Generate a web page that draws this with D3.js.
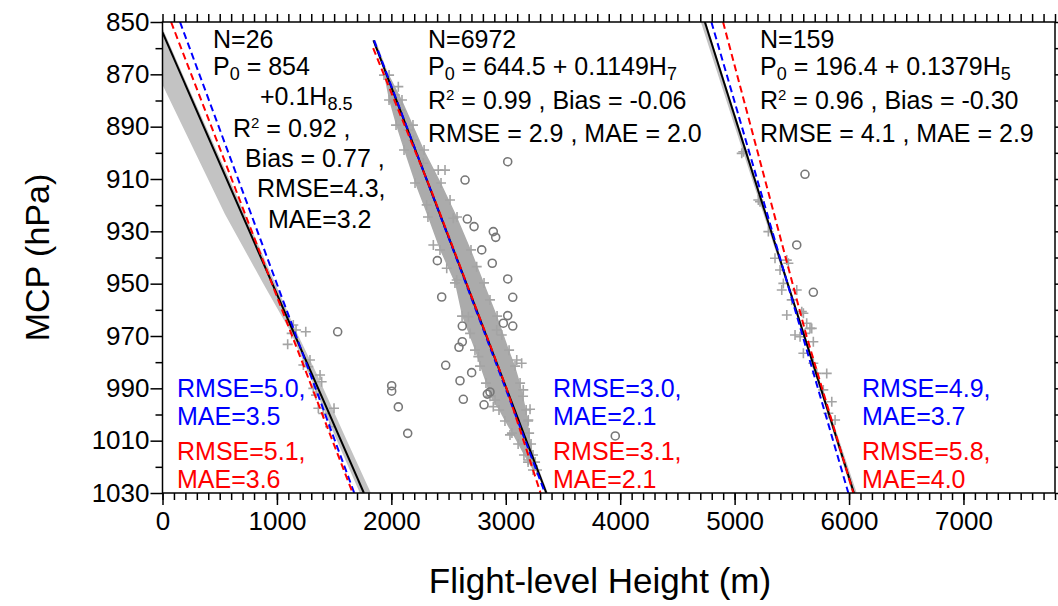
<!DOCTYPE html>
<html>
<head>
<meta charset="utf-8">
<script src="https://cdn.jsdelivr.net/npm/d3@7"></script>
<style>
body { margin: 0; background: #fff; }
text { font-family: "Liberation Sans", Arial, sans-serif; }
</style>
</head>
<body>
<svg id="chart"></svg>
<script>
const width = 1058;
const height = 606;

// axis ranges and ticks
const xDomain = [0, 7800];
const yDomain = [850, 1030];
const xMajor = [0, 1000, 2000, 3000, 4000, 5000, 6000, 7000];
const yMajor = [850, 870, 890, 910, 930, 950, 970, 990, 1010, 1030];

// scatter points [height m, pressure hPa]
const g1Plus = [[1143,965.8],[1252,968.4],[1094,973.2],[1129,969.0],[1167,967.7],[1231,981.1],[1274,981.7],[1289,979.2],[1377,984.9],[1391,987.5],[1318,990.0],[1342,992.6],[1362,997.6],[1499,997.6],[1405,999.6],[1464,1004.7]];
const g1Circle = [[1531,968.4]];

const g2Plus = [[2061,874.7],[2032,877.9],[2017,880.5],[2076,883.6],[2148,891.3],[2192,895.1],[2279,904.0],[2410,906.6],[2469,906.6],[2309,919.9],[2513,918.0],[2542,925.0],[2367,935.2],[2484,944.1],[2746,943.5],[2571,948.6],[2862,956.2],[2673,962.6],[2688,969.0],[2921,967.7],[2965,969.6],[2760,977.9],[3096,979.2],[3139,980.4],[3153,990.6],[2906,994.5],[2891,997.0],[3212,998.0],[3197,1002.1],[3037,1007.8],[3197,1017.4]];
const g2Circle = [[3017,903.4],[2644,910.4],[2664,925.3],[2723,928.2],[2891,930.1],[2912,932.3],[2790,937.1],[2402,941.2],[2882,942.2],[3017,948.2],[2440,955.1],[3061,955.2],[3017,962.2],[2979,965.1],[3061,966.2],[2620,966.2],[2620,972.2],[2591,974.3],[2475,981.2],[2702,984.0],[2600,987.1],[2839,992.2],[2862,991.4],[2629,994.2],[2810,996.3],[2003,989.0],[2003,991.1],[2061,997.1],[2143,1007.2],[3957,1008.2]];
// dense core of the N=6972 cloud: pressure, left and right height
const g2CoreP  = [870.3, 879.8, 889.4, 898.9, 911.5, 924.5, 937.1, 949.7, 962.4, 975.4, 981.5, 988.0, 993.0, 998.3, 1002.5, 1007.1, 1011.3, 1015.5, 1018.2, 1021.2];
const g2CoreLo = [1936, 1980, 2041, 2111, 2207, 2320, 2425, 2556, 2618, 2731, 2775, 2827, 2862, 2941, 2993, 3054, 3108, 3159, 3195, 3238];
const g2CoreHi = [1980, 2093, 2189, 2286, 2434, 2574, 2696, 2810, 2924, 3029, 3081, 3125, 3151, 3178, 3195, 3204, 3221, 3238, 3256, 3273];

const g3Plus = [[5062,900.2],[5076,899.6],[5207,918.0],[5222,918.7],[5295,930.1],[5353,940.3],[5456,941.0],[5397,944.8],[5470,942.2],[5426,949.9],[5412,952.4],[5543,952.4],[5499,956.2],[5456,962.0],[5587,960.7],[5601,961.3],[5630,965.1],[5674,967.1],[5659,967.1],[5528,969.6],[5615,969.0],[5572,970.3],[5688,972.2],[5601,976.6],[5688,980.4],[5718,984.3],[5805,984.3],[5775,990.6],[5849,995.1],[5819,999.5],[5878,1002.1]];
const g3Circle = [[5615,908.2],[5543,935.2],[5688,953.3]];

// confidence bands [pressure, left height, right height]
const g1Band = [[850,-258,-23],[873,-11,207],[923.4,545,720],[950,881,986],[968,1114,1166],[985,1284,1354],[1010,1525,1612],[1030,1725,1821]];
const g2Band = [[857,1836,1862],[950,2653,2665],[1030,3342,3368]];
const g3Band = [[850,4705,4749],[900,5076,5111],[960,5528,5546],[1000,5814,5840],[1030,6027,6067]];

// fitted lines [height, pressure]
const fitBlack = [[[0,854],[1760,1030]], [[1844,857],[3355,1030]], [[4740,850],[6043,1030]]];
const fitBlue  = [[[153,850],[1676,1030]], [[1849,857],[3343,1030]], [[4797,850],[5994,1030]]];
const fitRed   = [[[75,850],[1662,1030]], [[1841,860],[2354,915],[3007,990],[3304,1030]], [[4899,850],[5630,970.3],[6038,1030]]];

// annotation texts
const notes1 = ["N=26", "P_{0} = 854", "+0.1H_{8.5}", "R^{2} = 0.92 ,", "Bias = 0.77 ,", "RMSE=4.3,", "MAE=3.2"];
const notes2 = ["N=6972", "P_{0} = 644.5 + 0.1149H_{7}", "R^{2} = 0.99 , Bias = -0.06", "RMSE = 2.9 , MAE = 2.0"];
const notes3 = ["N=159", "P_{0} = 196.4 + 0.1379H_{5}", "R^{2} = 0.96 , Bias = -0.30", "RMSE = 4.1 , MAE = 2.9"];
const statsBlue = [["RMSE=5.0,", "MAE=3.5"], ["RMSE=3.0,", "MAE=2.1"], ["RMSE=4.9,", "MAE=3.7"]];
const statsRed  = [["RMSE=5.1,", "MAE=3.6"], ["RMSE=3.1,", "MAE=2.1"], ["RMSE=5.8,", "MAE=4.0"]];


const x = d3.scaleLinear().domain(xDomain).range([162.5, 1055]);
const y = d3.scaleLinear().domain(yDomain).range([22, 493]);

const svg = d3.select("#chart")
  .attr("width", width)
  .attr("height", height);

svg.append("clipPath").attr("id", "clip")
  .append("rect")
  .attr("x", x(xDomain[0])).attr("y", y(yDomain[0]))
  .attr("width", x(xDomain[1]) - x(xDomain[0]))
  .attr("height", y(yDomain[1]) - y(yDomain[0]));

const plot = svg.append("g").attr("clip-path", "url(#clip)");

// bands
const band = d3.area()
  .y(d => y(d[0]))
  .x0(d => x(d[1]))
  .x1(d => x(d[2]));

plot.selectAll(".band")
  .data([g1Band, g2Band, g3Band]).join("path")
  .attr("d", band)
  .attr("fill", "#c3c3c3");

// dense cloud core
const core = g2CoreP.map((p, i) => [p, g2CoreLo[i], g2CoreHi[i]]);
plot.append("path")
  .attr("d", band(core))
  .attr("fill", "#ababab");

const coreEdge = core.flatMap(d => [[d[1], d[0]], [d[2], d[0]]]);
const allPlus = g1Plus.concat(g2Plus, coreEdge, g3Plus);

plot.selectAll(".plus")
  .data(allPlus).join("path")
  .attr("d", "M-5,0H5M0,-5V5")
  .attr("transform", d => `translate(${x(d[0])},${y(d[1])})`)
  .attr("stroke", "#a4a4a4")
  .attr("stroke-width", 1.6)
  .attr("fill", "none");

plot.selectAll(".circ")
  .data(g1Circle.concat(g2Circle, g3Circle)).join("circle")
  .attr("cx", d => x(d[0]))
  .attr("cy", d => y(d[1]))
  .attr("r", 4)
  .attr("fill", "none")
  .attr("stroke", "#777")
  .attr("stroke-width", 1.6);

// fit lines
const line = d3.line().x(d => x(d[0])).y(d => y(d[1]));

plot.selectAll(".black")
  .data(fitBlack).join("path")
  .attr("d", line)
  .attr("fill", "none")
  .attr("stroke", "#000")
  .attr("stroke-width", 2);

plot.selectAll(".blue")
  .data(fitBlue).join("path")
  .attr("d", line)
  .attr("fill", "none")
  .attr("stroke", "#0000ff")
  .attr("stroke-width", 2)
  .attr("stroke-dasharray", "7,4");

plot.selectAll(".red")
  .data(fitRed).join("path")
  .attr("d", line)
  .attr("fill", "none")
  .attr("stroke", "#ff0000")
  .attr("stroke-width", 2)
  .attr("stroke-dasharray", "7,4");

// axes
const axisStyle = g => {
  g.select(".domain").remove();
  g.selectAll("line").attr("stroke", "#000").attr("stroke-width", 1.5);
  g.selectAll("text").attr("font-size", 26).attr("fill", "#000")
    .attr("font-family", "'Liberation Sans', Arial, sans-serif");
};
const fmt = d3.format("d");

svg.append("g")
  .attr("transform", `translate(${x(0)},0)`)
  .call(d3.axisLeft(y).tickValues(yMajor).tickSize(12).tickPadding(1).tickFormat(fmt))
  .call(axisStyle);
svg.append("g")
  .attr("transform", `translate(${x(0)},0)`)
  .call(d3.axisLeft(y).tickValues(d3.range(860, 1030, 20)).tickSize(7).tickFormat(""))
  .call(axisStyle);

svg.append("g")
  .attr("transform", `translate(0,${y(1030)})`)
  .call(d3.axisBottom(x).tickValues(xMajor).tickSize(12).tickPadding(7).tickFormat(fmt))
  .call(axisStyle);
svg.append("g")
  .attr("transform", `translate(0,${y(1030)})`)
  .call(d3.axisBottom(x).tickValues(d3.range(0, 7801, 100)).tickSize(7).tickFormat(""))
  .call(axisStyle);

svg.append("g")
  .attr("transform", `translate(0,${y(850)})`)
  .call(d3.axisTop(x).tickValues(d3.range(0, 7801, 100)).tickSize(8).tickFormat(""))
  .call(axisStyle);

svg.append("g")
  .attr("transform", `translate(${x(7800)},0)`)
  .call(d3.axisRight(y).tickValues(d3.range(850, 1031, 10)).tickSize(8).tickFormat(""))
  .call(axisStyle);

svg.append("rect")
  .attr("x", x(0)).attr("y", y(850))
  .attr("width", x(7800) - x(0))
  .attr("height", y(1030) - y(850))
  .attr("fill", "none")
  .attr("stroke", "#000")
  .attr("stroke-width", 1.5);

// axis titles
svg.append("text")
  .attr("transform", `translate(49,${(y(850) + y(1030)) / 2}) rotate(-90)`)
  .attr("text-anchor", "middle")
  .attr("font-size", 34)
  .text("MCP (hPa)");

svg.append("text")
  .attr("x", 600)
  .attr("y", 593)
  .attr("text-anchor", "middle")
  .attr("font-size", 35)
  .text("Flight-level Height (m)");

// rich text with _{sub} and ^{sup}
function rich(sel, str, size) {
  const parts = str.split(/([_^]\{[^}]*\})/).filter(s => s);
  let shift = 0;
  parts.forEach(p => {
    let dy = 0, fs = size, txt = p;
    if (p[0] === "_") { txt = p.slice(2, -1); fs = size * 0.72; dy = size * 0.2; }
    else if (p[0] === "^") { txt = p.slice(2, -1); fs = size * 0.6; dy = -size * 0.38; }
    sel.append("tspan").attr("dy", dy - shift).attr("font-size", fs).text(txt);
    shift = dy;
  });
}

function note(str, px, py, color) {
  const t = svg.append("text")
    .attr("x", px).attr("y", py)
    .attr("font-size", 25)
    .attr("fill", color || "#000");
  rich(t, str, 25);
}

const notes1Pos = [[213,48],[213,75],[260,105],[233,137],[245,167],[257,197],[268,228]];
notes1.forEach((s, i) => note(s, notes1Pos[i][0], notes1Pos[i][1]));

const notesY = [48, 75, 109, 142];
notes2.forEach((s, i) => note(s, 428, notesY[i]));
notes3.forEach((s, i) => note(s, 760, notesY[i]));

const statsX = [177, 553, 862];
statsBlue.forEach((pair, g) => {
  note(pair[0], statsX[g], 397, "#0000ff");
  note(pair[1], statsX[g], 425, "#0000ff");
});
statsRed.forEach((pair, g) => {
  note(pair[0], statsX[g], 460, "#ff0000");
  note(pair[1], statsX[g], 488, "#ff0000");
});
</script>
</body>
</html>
